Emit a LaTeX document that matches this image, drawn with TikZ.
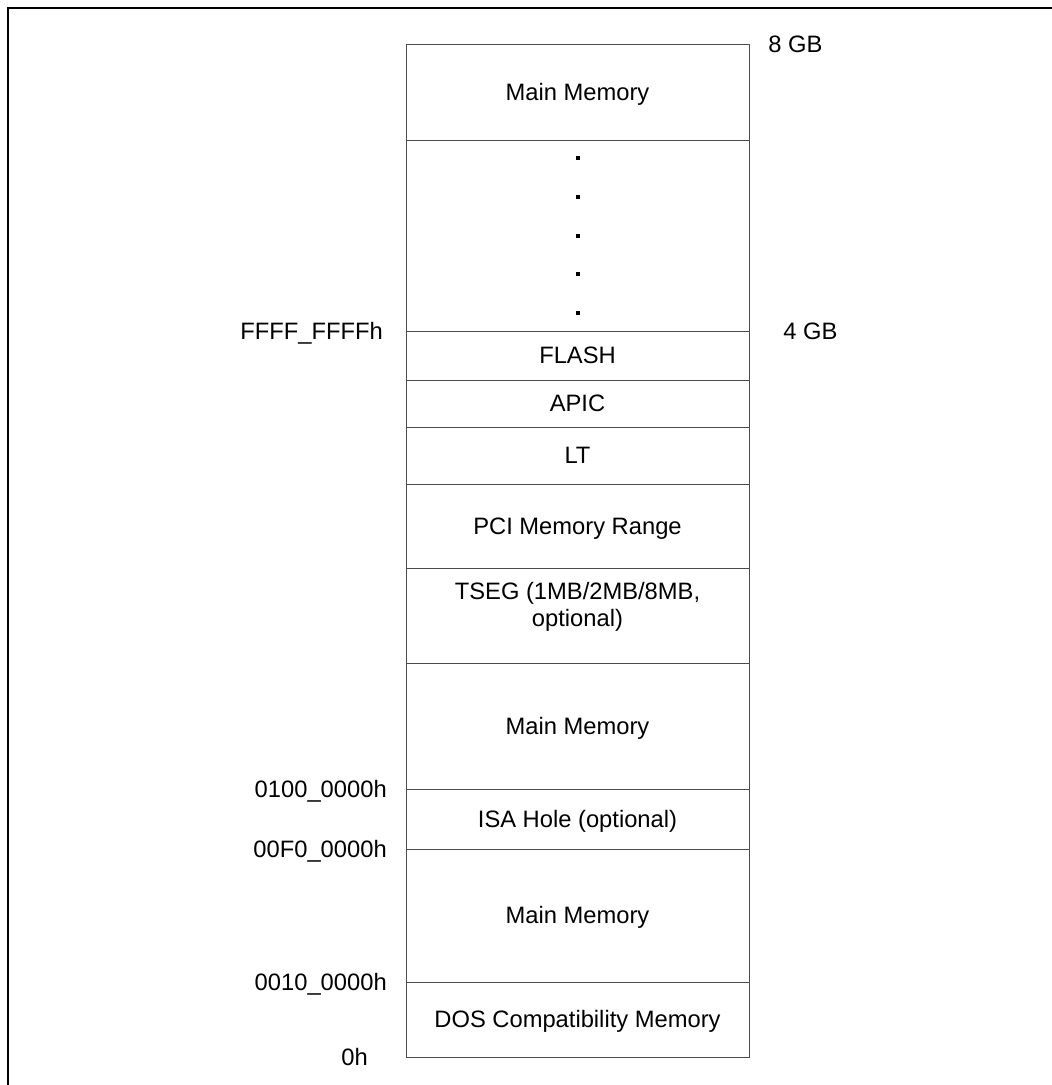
\documentclass[tikz,border=0pt]{standalone}
\usepackage{fontspec}
\setmainfont{Liberation Sans}
\begin{document}
\begin{tikzpicture}[x=0.75pt,y=-0.75pt,
  region/.style={draw=black!70, line width=0.75pt, rectangle, minimum width=257.25pt, inner sep=0pt, outer sep=0pt, anchor=north, align=center, text height=12.7pt, text depth=0pt, font=\fontsize{17.8}{20.5}\selectfont},
  addr/.style={inner sep=0pt, font=\fontsize{17.8}{20.5}\selectfont},
  dotmark/.style={rectangle, fill=black, minimum size=3pt, inner sep=0pt},
  frameline/.style={line width=1.5pt, line cap=rect}]
\useasboundingbox (0,0) rectangle (1052,1085);
% outer frame (top and left edges)
\coordinate (fa) at (7.7,1085);
\coordinate (fb) at (7.7,7.7);
\coordinate (fc) at (1052,7.7);
\draw[frameline] (fa) -- (fb) -- (fc);
% memory regions
\node[region, minimum height=72pt] (mmtop) at (577.5,44) {Main Memory};
\node[region, minimum height=143.25pt] (gap) at (mmtop.south) {};
\node[region, minimum height=36.75pt] (flash) at (gap.south) {FLASH};
\node[region, minimum height=35.25pt] (apic) at (flash.south) {APIC};
\node[region, minimum height=42.75pt] (lt) at (apic.south) {LT};
\node[region, minimum height=63pt] (pci) at (lt.south) {PCI Memory Range};
\node[region, minimum height=71.25pt] (tseg) at (pci.south) {};
\node[region, minimum height=94.5pt] (mmmid) at (tseg.south) {Main Memory};
\node[region, minimum height=45pt] (isa) at (mmmid.south) {ISA Hole (optional)};
\node[region, minimum height=99.75pt] (mmlow) at (isa.south) {Main Memory};
\node[region, minimum height=56.25pt] (dos) at (mmlow.south) {DOS Compatibility Memory};
\node[addr, align=center, anchor=center] (tsegtxt) at (577.5,607) {TSEG (1MB/2MB/8MB,\\optional)};
% dots
\node[dotmark] (d1) at (577.5,158.3) {};
\node[dotmark] (d2) at (577.5,197) {};
\node[dotmark] (d3) at (577.5,235.7) {};
\node[dotmark] (d4) at (577.5,274.3) {};
\node[dotmark] (d5) at (577.5,313) {};
% address labels
\node[addr, anchor=base west] (l8gb) at (768,52.6) {8 GB};
\node[addr, anchor=base west] (l4gb) at (783,339.6) {4 GB};
\node[addr, anchor=base east] (lffff) at (383,339.6) {FFFF\_FFFFh};
\node[addr, anchor=base east] (l0100) at (387,797.6) {0100\_0000h};
\node[addr, anchor=base east] (l00f0) at (387,857.6) {00F0\_0000h};
\node[addr, anchor=base east] (l0010) at (387,990.6) {0010\_0000h};
\node[addr, anchor=base east] (l0h) at (368,1065.3) {0h};
\end{tikzpicture}
\end{document}
